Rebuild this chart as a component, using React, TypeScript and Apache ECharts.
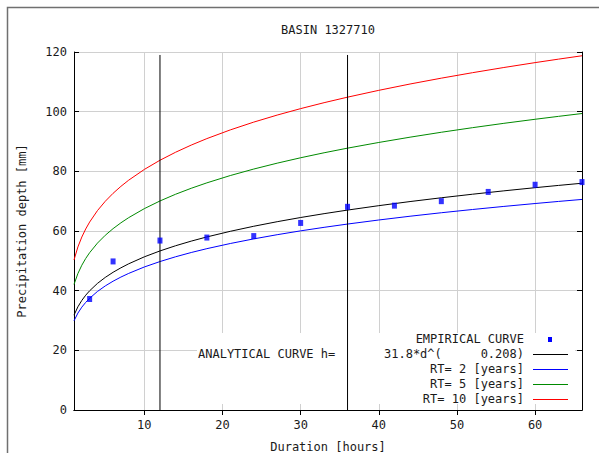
import React, { useEffect, useRef } from 'react';
import * as echarts from 'echarts';

// Durations (hours) at which the analytical / return-period curves are read
const durations = [1, 1.5, 2, 2.5, 3, 4, 5, 6, 7, 8, 10, 12, 14, 16, 18, 21, 24, 27, 30, 33, 36, 40, 44, 48, 52, 56, 60, 63, 66];
// Analytical curve h = 31.8*d^0.208 (mm)
const analytical = [31.8, 34.6, 36.73, 38.48, 39.96, 42.43, 44.44, 46.16, 47.66, 49.01, 51.34, 53.32, 55.06, 56.61, 58.01, 59.9, 61.59, 63.12, 64.52, 65.81, 67.01, 68.49, 69.87, 71.14, 72.33, 73.46, 74.52, 75.28, 76.01];
// Return period curves (mm)
const rt2 = [29.9, 32.49, 34.47, 36.08, 37.45, 39.73, 41.59, 43.17, 44.56, 45.79, 47.94, 49.76, 51.36, 52.79, 54.08, 55.81, 57.36, 58.76, 60.05, 61.23, 62.33, 63.69, 64.95, 66.12, 67.21, 68.24, 69.21, 69.91, 70.58];
const rt5 = [42.1, 45.75, 48.53, 50.8, 52.73, 55.94, 58.56, 60.79, 62.74, 64.48, 67.5, 70.07, 72.32, 74.32, 76.14, 78.59, 80.77, 82.74, 84.55, 86.22, 87.77, 89.68, 91.45, 93.1, 94.64, 96.09, 97.45, 98.43, 99.38];
const rt10 = [50.3, 54.66, 57.98, 60.69, 63.0, 66.83, 69.96, 72.63, 74.96, 77.04, 80.64, 83.72, 86.4, 88.8, 90.97, 93.89, 96.5, 98.86, 101.02, 103.01, 104.86, 107.15, 109.27, 111.23, 113.07, 114.8, 116.44, 117.61, 118.74];
// Empirical curve
const empiricalDurations = [3, 6, 12, 18, 24, 30, 36, 42, 48, 54, 60, 66];
const empiricalDepths = [37.2, 49.8, 56.8, 57.8, 58.3, 62.7, 68.1, 68.5, 70.0, 73.1, 75.5, 76.4];
// Vertical reference lines
const markerDurations = [12, 36];
const markerBottom = 0;
const markerTop = 119;
// Axis ticks / grid lines
const xTicks = [10, 20, 30, 40, 50, 60];
const xMin = 1;
const xMax = 66;
const yMin = 0;
const yMax = 120;
const yStep = 20;

const titleText = 'BASIN 1327710';
const xName = 'Duration [hours]';
const yName = 'Precipitation depth [mm]';
const analyticalPrefix = 'ANALYTICAL CURVE h=';
const legendEntries = [
  { left: '', right: 'EMPIRICAL CURVE', kind: 'point', color: '#0000ff' },
  { left: '31.8*d^(', right: '0.208)', kind: 'line', color: '#000000' },
  { left: '', right: 'RT= 2 [years]', kind: 'line', color: '#0000ff' },
  { left: '', right: 'RT= 5 [years]', kind: 'line', color: '#008a00' },
  { left: '', right: 'RT= 10 [years]', kind: 'line', color: '#ff0000' },
];

const FONT = '"DejaVu Sans Mono", "Liberation Mono", monospace';
const TEXT_COLOR = '#1a1a1a';
const GRID_COLOR = '#d0d0d0';

function pairs(xs: number[], ys: number[]) {
  return xs.map((x, i) => [x, ys[i]]);
}

export default function App() {
  const ref = useRef<HTMLDivElement>(null);
  useEffect(() => {
    if (!ref.current) return;
    const chart = echarts.init(ref.current, undefined, { renderer: 'svg' });
    const axisLine = { show: true, lineStyle: { color: '#000', width: 1 } };
    const tick = { show: true, inside: true, length: 5, lineStyle: { color: '#000', width: 1 } };
    const label = { color: TEXT_COLOR, fontFamily: FONT, fontSize: 12 };

    const legendX = 524;
    const legendY0 = 339;
    const legendDy = 15;
    const graphicEls: any[] = [
      { type: 'polyline', z: 6, silent: true, shape: { points: [[7.5, 470], [7.5, 7.5], [620, 7.5]] }, style: { fill: null, stroke: '#707070', lineWidth: 1.5 } },
      { type: 'rect', z: 1, silent: true, shape: { x: 197, y: 333, width: 378, height: 71 }, style: { fill: '#ffffff' } },
      { type: 'text', z: 5, x: 328, y: 30, style: { text: titleText, fill: TEXT_COLOR, font: `12px ${FONT}`, textAlign: 'center', textVerticalAlign: 'middle' } },
      { type: 'text', z: 5, x: 198, y: legendY0 + legendDy, style: { text: analyticalPrefix, fill: TEXT_COLOR, font: `12px ${FONT}`, textAlign: 'left', textVerticalAlign: 'middle' } },
    ];
    legendEntries.forEach((e, i) => {
      const y = legendY0 + legendDy * i;
      graphicEls.push({ type: 'text', z: 5, x: legendX, y, style: { text: e.right, fill: TEXT_COLOR, font: `12px ${FONT}`, textAlign: 'right', textVerticalAlign: 'middle' } });
      if (e.left) {
        graphicEls.push({ type: 'text', z: 5, x: 384, y, style: { text: e.left, fill: TEXT_COLOR, font: `12px ${FONT}`, textAlign: 'left', textVerticalAlign: 'middle' } });
      }
      if (e.kind === 'line') {
        graphicEls.push({ type: 'line', z: 5, shape: { x1: 533, y1: y + 0.5, x2: 568, y2: y + 0.5 }, style: { stroke: e.color, lineWidth: 1 } });
      } else {
        graphicEls.push({ type: 'rect', z: 5, shape: { x: 548, y: y - 2, width: 4, height: 5 }, style: { fill: e.color } });
      }
    });

    const lineSeries = (name: string, data: number[], color: string) => ({
      name,
      type: 'line',
      data: pairs(durations, data),
      showSymbol: false,
      symbol: 'none',
      lineStyle: { color, width: 1 },
      z: 3,
      silent: true,
    });

    chart.setOption({
      animation: false,
      backgroundColor: '#ffffff',
      grid: { left: 74, right: 17, top: 52, bottom: 43, containLabel: false, outerBoundsMode: 'none' },
      xAxis: [
        {
          type: 'value', position: 'bottom', min: xMin, max: xMax,
          axisLine, axisTick: { ...tick, customValues: xTicks },
          axisLabel: { ...label, margin: 9, customValues: xTicks },
          splitLine: { show: false },
          name: xName, nameLocation: 'middle', nameGap: 31,
          nameTextStyle: { color: TEXT_COLOR, fontFamily: FONT, fontSize: 12 },
        },
        {
          type: 'value', position: 'top', min: xMin, max: xMax,
          axisLine, axisTick: { ...tick, customValues: xTicks },
          axisLabel: { show: false, customValues: xTicks }, splitLine: { show: false },
        },
      ],
      yAxis: [
        {
          type: 'value', position: 'left', min: yMin, max: yMax, interval: yStep,
          axisLine, axisTick: tick,
          axisLabel: { ...label, margin: 7 },
          splitLine: { show: true, lineStyle: { color: GRID_COLOR, width: 1, type: 'solid' } },
          name: yName, nameLocation: 'middle', nameGap: 46,
          nameTextStyle: { color: TEXT_COLOR, fontFamily: FONT, fontSize: 12 },
        },
        {
          type: 'value', position: 'right', min: yMin, max: yMax, interval: yStep,
          axisLine, axisTick: tick, axisLabel: { show: false }, splitLine: { show: false },
        },
      ],
      series: [
        {
          name: 'grid',
          type: 'line',
          data: [[xMin, yMin]],
          showSymbol: false,
          symbol: 'none',
          lineStyle: { width: 0, opacity: 0 },
          z: 0.5,
          silent: true,
          markLine: {
            z: 0.5,
            silent: true,
            symbol: ['none', 'none'],
            label: { show: false },
            lineStyle: { color: GRID_COLOR, width: 1, type: 'solid' },
            emphasis: { disabled: true },
            data: xTicks.map((v) => ({ xAxis: v })),
          },
        },
        ...markerDurations.map((d, i) => ({
          name: 'marker' + i,
          type: 'line',
          data: [[d, markerBottom], [d, markerTop]],
          showSymbol: false,
          symbol: 'none',
          lineStyle: { color: '#000', width: 1 },
          z: 4,
          silent: true,
        })),
        lineSeries('RT= 10 [years]', rt10, '#ff0000'),
        lineSeries('RT= 5 [years]', rt5, '#008a00'),
        lineSeries('RT= 2 [years]', rt2, '#0000ff'),
        lineSeries('Analytical', analytical, '#000000'),
        {
          name: 'EMPIRICAL CURVE',
          type: 'scatter',
          data: pairs(empiricalDurations, empiricalDepths),
          symbol: 'rect',
          symbolSize: [5, 6],
          itemStyle: { color: '#0000ff' },
          z: 5,
          silent: true,
        },
      ],
      graphic: { elements: graphicEls },
    });
    return () => chart.dispose();
  }, []);
  return <div ref={ref} style={{ position: 'fixed', left: 0, top: 0, width: 599, height: 453 }} />;
}
